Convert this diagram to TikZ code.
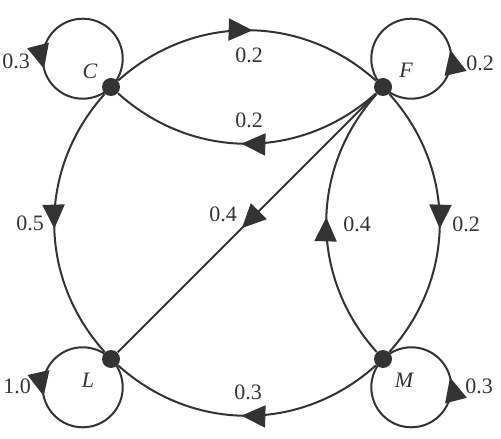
\documentclass[tikz,border=0pt]{standalone}
\usepackage{fontspec}
\setmainfont{Liberation Serif}
\usepackage{xcolor}
\usetikzlibrary{arrows.meta, decorations.markings}
\definecolor{ink}{HTML}{333333}
\tikzstyle{edge} = [draw=ink, line width=1pt]
\tikzset{
  dot/.style={circle, fill=ink, inner sep=0pt, minimum size=9pt},
  lbl/.style={font=\fontsize{11}{13}\selectfont, text=ink, inner sep=0pt},
  statename/.style={font=\fontsize{11}{13}\selectfont\itshape, text=ink, inner sep=0pt},
  midarrow/.style={postaction={decorate, decoration={markings,
      mark=at position #1 with {\arrow{Triangle[length=12pt, width=11pt]}}}}},
  midarrow/.default=0.52,
}

\begin{document}
\begin{tikzpicture}[x=0.5pt, y=0.5pt, ink]
        \useasboundingbox (0,0) rectangle (501,438);
        % Draw the four states
        \node[dot] (C) at (111,351) {};
        \node[dot] (F) at (383,351) {};
        \node[dot] (L) at (111,79) {};
        \node[dot] (M) at (383,79) {};
        \node[statename] (nC) at (90,367) {C};
        \node[statename] (nF) at (406,368) {F};
        \node[statename] (nL) at (88,58) {L};
        \node[statename] (nM) at (404,58) {M};

        % Draw the self loops
        \draw[edge, midarrow=0.665] (C.center) arc[start angle=-45, end angle=315, radius=40];
        \draw[edge, midarrow=0.41] (F.center) arc[start angle=225, end angle=585, radius=40];
        \draw[edge, midarrow=0.41] (L.center) arc[start angle=45, end angle=405, radius=40];
        \draw[edge, midarrow=0.665] (M.center) arc[start angle=135, end angle=495, radius=40];
        \node[lbl] (pCC) at (16,377) {0.3};
        \node[lbl] (pFF) at (480,375) {0.2};
        \node[lbl] (pLL) at (17,52) {1.0};
        \node[lbl] (pMM) at (479,52) {0.3};

        % Draw the transitions between states
        \draw[edge, midarrow] (C) to[bend left=42] (F);
        \draw[edge, midarrow] (F) to[bend left=42] (C);
        \draw[edge, midarrow] (C) to[bend right=42] (L);
        \draw[edge, midarrow] (F) to[bend left=42] (M);
        \draw[edge, midarrow] (M) to[bend left=42] (F);
        \draw[edge, midarrow] (M) to[bend left=42] (L);
        \draw[edge, midarrow] (F) -- (L);
        \node[lbl] (pCF) at (249,383) {0.2};
        \node[lbl] (pFC) at (249,318) {0.2};
        \node[lbl] (pCL) at (30,215) {0.5};
        \node[lbl] (pFL) at (223,224) {0.4};
        \node[lbl] (pMF) at (357,214) {0.4};
        \node[lbl] (pFM) at (466,214) {0.2};
        \node[lbl] (pML) at (248,46) {0.3};
    \end{tikzpicture}
\end{document}
